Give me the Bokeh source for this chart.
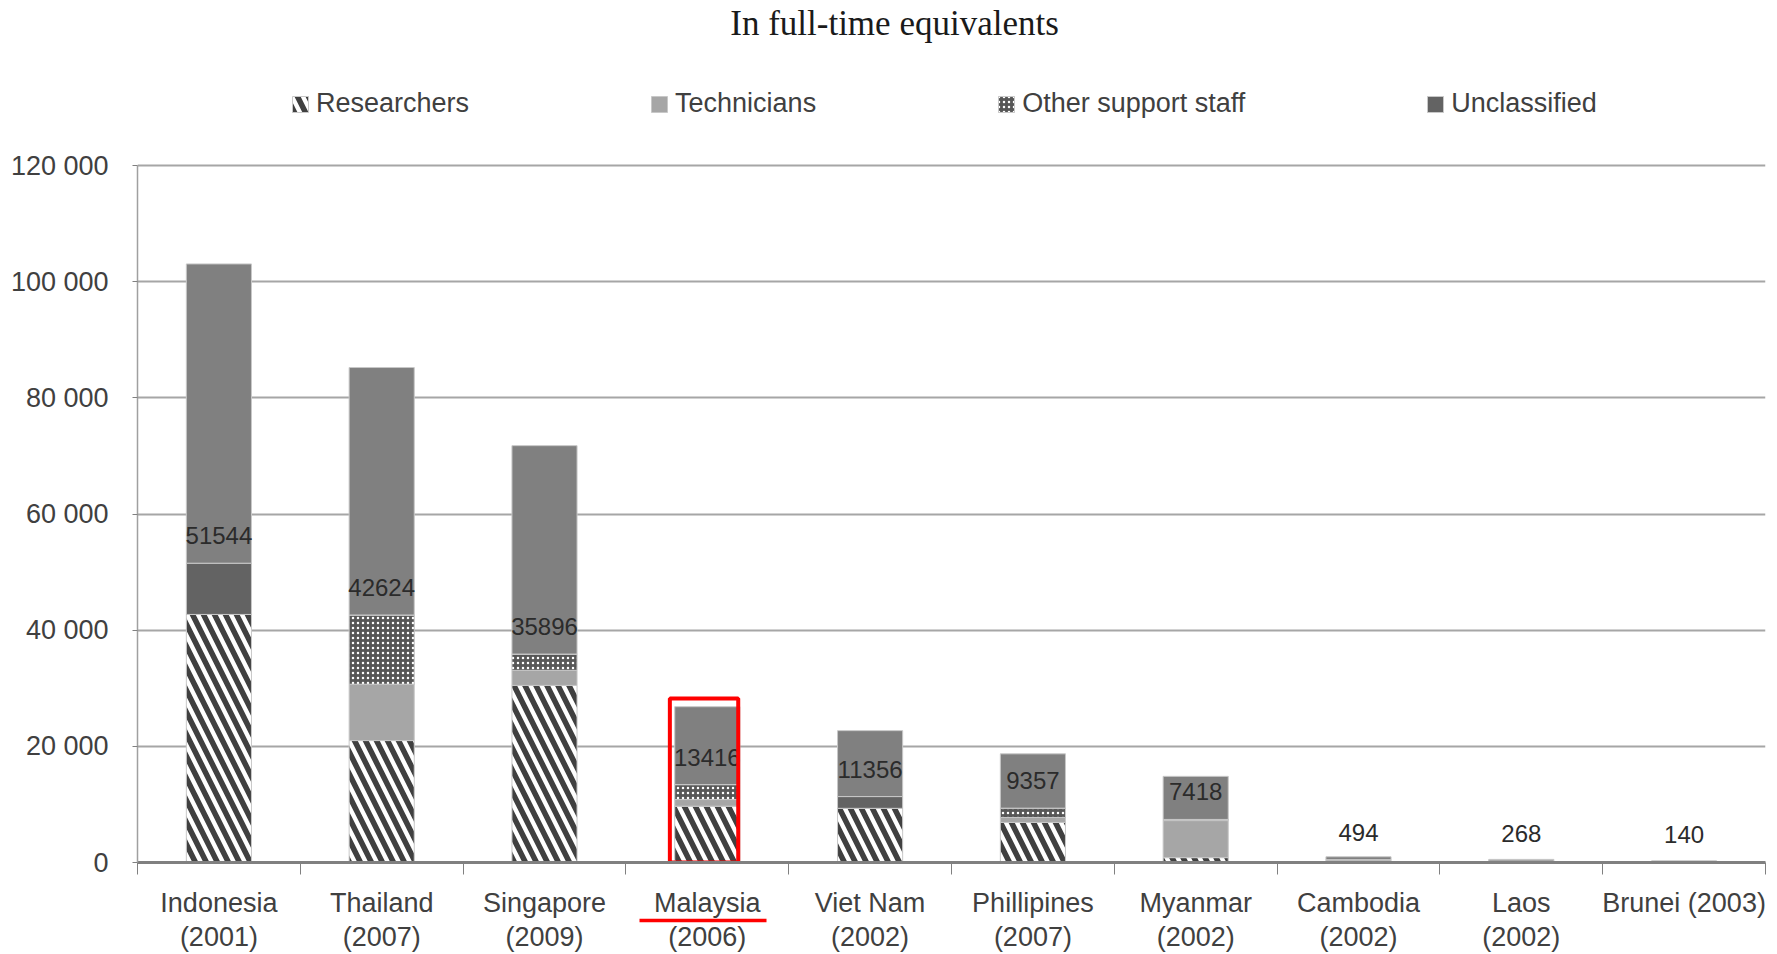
from bokeh.plotting import figure
from bokeh.models import (ColumnDataSource, FixedTicker, Legend, LegendItem,
                          Label, Range1d, LinearAxis)
from bokeh.transform import stack
from bokeh.core.properties import value
from bokeh.embed import file_html
from bokeh.resources import INLINE

# ---------------- data ----------------
label_line1 = ["Indonesia", "Thailand", "Singapore", "Malaysia", "Viet Nam",
               "Phillipines", "Myanmar", "Cambodia", "Laos", "Brunei (2003)"]
label_line2 = ["(2001)", "(2007)", "(2009)", "(2006)", "(2002)",
               "(2007)", "(2002)", "(2002)", "(2002)", ""]
researchers = [42722, 21000, 30500, 9694, 9328, 6896, 837, 223, 87, 60]
technicians = [0, 9700, 2600, 1150, 0, 850, 6381, 85, 106, 40]
other_support = [0, 11924, 2796, 2572, 0, 1611, 200, 186, 75, 40]
unclassified = [8822, 0, 0, 0, 2028, 0, 0, 0, 0, 0]
totals = [51544, 42624, 35896, 13416, 11356, 9357, 7418, 494, 268, 140]
y_ticks = [0, 20000, 40000, 60000, 80000, 100000, 120000]
y_tick_labels = ["0", "20 000", "40 000", "60 000", "80 000", "100 000", "120 000"]
series_names = ["Researchers", "Technicians", "Other support staff", "Unclassified"]
highlight = "Malaysia"
title_text = "In full-time equivalents"

n = len(label_line1)
xs = [i + 0.5 for i in range(n)]
src = ColumnDataSource(dict(
    x=xs, researchers=researchers, technicians=technicians,
    other=other_support, unclassified=unclassified, total=totals,
    label=[str(t) for t in totals]))

SANS = "Liberation Sans"
H, W_FIG = 954, 1777
BOTTOM = 88
FRAME_H = H - BOTTOM          # frame spans from the top of the canvas
TOP_GAP = 166                  # room for title and legend above the 120 000 line
Y_TOP = y_ticks[-1] * FRAME_H / (FRAME_H - TOP_GAP)

p = figure(width=W_FIG, height=H, output_backend="svg", toolbar_location=None,
           x_range=Range1d(0, n), y_range=Range1d(0, Y_TOP),
           min_border_left=137, min_border_right=12, min_border_bottom=BOTTOM,
           min_border_top=0)
p.title = None
p.outline_line_color = None
p.background_fill_color = "white"

W = 0.40
common = dict(x="x", width=W, source=src, line_color="#c8c8c8", line_width=1)
r_res = p.vbar(bottom=0, top=stack("researchers"), fill_color="white",
               hatch_pattern="\\", hatch_color="#404040", hatch_weight=5.5,
               hatch_scale=22, **common)
r_tec = p.vbar(bottom=stack("researchers"), top=stack("researchers", "technicians"),
               fill_color="#a6a6a6", **common)
r_oth = p.vbar(bottom=stack("researchers", "technicians"),
               top=stack("researchers", "technicians", "other"),
               fill_color="#575757", hatch_pattern="dot", hatch_color="white",
               hatch_weight=2.5, hatch_scale=5, **common)
r_unc = p.vbar(bottom=stack("researchers", "technicians", "other"),
               top=stack("researchers", "technicians", "other", "unclassified"),
               fill_color="#636363", **common)
r_tot = p.vbar(bottom="total", top=stack("total", "total"), fill_color="#808080", **common)

p.text(x="x", y="total", text="label", source=src, text_align="center",
       text_baseline="bottom", y_offset=-19, text_font=value(SANS),
       text_font_size="24px", text_color="#2b2b2b")

# highlight of Malaysia
hi = label_line1.index(highlight)
hx = xs[hi]
p.quad(left=hx - 0.23, right=hx + 0.19, bottom=0, top=2 * totals[hi] + 1400,
       fill_color=None, line_color="#ff0000", line_width=4)

# title (inside the frame, above the legend)
p.add_layout(Label(x=4.65, y=Y_TOP * (1 - 23 / FRAME_H), text=title_text,
                   text_font="Liberation Serif", text_font_size="35px",
                   text_color="#1a1a1a", text_align="center", text_baseline="middle"))

# y axis
p.yaxis.ticker = FixedTicker(ticks=y_ticks)
p.yaxis.bounds = (y_ticks[0], y_ticks[-1])
p.yaxis.major_label_overrides = {t: l for t, l in zip(y_ticks, y_tick_labels)}
p.yaxis.major_label_text_font = SANS
p.yaxis.major_label_text_font_size = "27px"
p.yaxis.major_label_text_color = "#404040"
p.yaxis.axis_line_color = "#a0a0a0"
p.yaxis.axis_line_width = 1.5
p.yaxis.major_tick_line_color = "#808080"
p.yaxis.major_tick_out = 5
p.yaxis.major_tick_in = 0
p.yaxis.minor_tick_line_color = None
p.yaxis.major_label_standoff = 24

# x axis: first label line
p.xaxis.ticker = FixedTicker(ticks=xs, minor_ticks=list(range(n + 1)))
p.xaxis.major_label_overrides = {x: c for x, c in zip(xs, label_line1)}
p.xaxis.major_label_text_font = SANS
p.xaxis.major_label_text_font_size = "27px"
p.xaxis.major_label_text_color = "#404040"
p.xaxis.major_tick_line_color = None
p.xaxis.major_tick_out = 0
p.xaxis.major_tick_in = 0
p.xaxis.minor_tick_line_color = "#808080"
p.xaxis.minor_tick_out = 12
p.xaxis.minor_tick_in = 0
p.xaxis.axis_line_color = "#808080"
p.xaxis.axis_line_width = 3
p.xaxis.major_label_standoff = 13

# red underline under the highlighted country (an axis line limited by bounds)
ul = LinearAxis(ticker=FixedTicker(ticks=[]), bounds=(hx - 0.415, hx + 0.365),
                axis_line_color="#ff0000", axis_line_width=3.5,
                major_tick_line_color=None, minor_tick_line_color=None,
                major_tick_out=0, major_tick_in=0, minor_tick_out=0, minor_tick_in=0,
                major_label_standoff=0, major_label_text_font_size="1px")
p.add_layout(ul, "below")

# second label line
yr = LinearAxis(ticker=FixedTicker(ticks=xs),
                major_label_overrides={x: c for x, c in zip(xs, label_line2)},
                major_label_text_font=SANS, major_label_text_font_size="27px",
                major_label_text_color="#404040", axis_line_color=None,
                major_tick_line_color=None, minor_tick_line_color=None,
                major_tick_out=0, major_tick_in=0, minor_tick_out=0, minor_tick_in=0,
                major_label_standoff=1)
p.add_layout(yr, "below")

p.xgrid.grid_line_color = None
p.ygrid.ticker = FixedTicker(ticks=y_ticks)
p.ygrid.grid_line_color = "#a6a6a6"
p.ygrid.grid_line_width = 2

legend = Legend(items=[LegendItem(label=series_names[0], renderers=[r_res]),
                       LegendItem(label=series_names[1], renderers=[r_tec]),
                       LegendItem(label=series_names[2], renderers=[r_oth]),
                       LegendItem(label=series_names[3], renderers=[r_unc])],
                orientation="horizontal", location=(153, FRAME_H - 107 - 16), spacing=180,
                glyph_width=20, glyph_height=20, label_standoff=6,
                label_text_font=SANS, label_text_font_size="27px",
                label_text_color="#404040", border_line_color=None,
                background_fill_alpha=0, margin=0, padding=0)
p.add_layout(legend, "center")

open("out.html", "w").write(file_html(p, INLINE))
